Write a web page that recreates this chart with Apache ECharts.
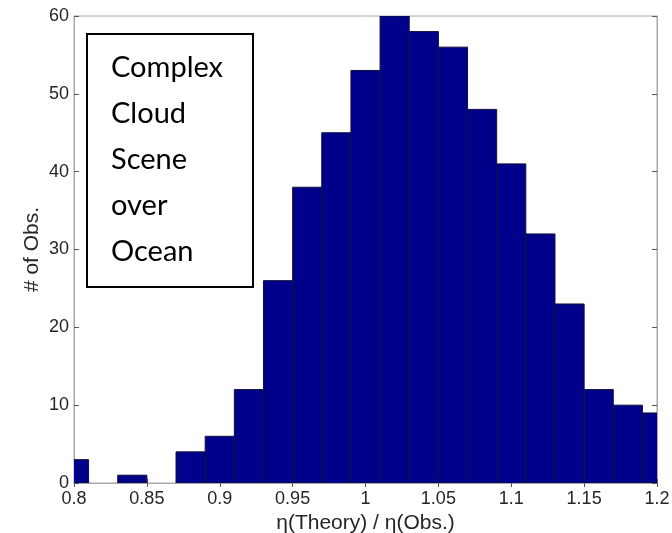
<!DOCTYPE html>
<html>
<head>
<meta charset="utf-8">
<script src="https://cdn.jsdelivr.net/npm/echarts@6/dist/echarts.min.js"></script>
<style>
  html, body { margin: 0; padding: 0; background: #fff; }
  #chart { width: 672px; height: 533px; }
</style>
</head>
<body>
<div id="chart"></div>
<script>
// Histogram bins: centres and widths of η(Theory)/η(Obs.) ratios
const binCenters = [0.80, 0.82, 0.84, 0.86, 0.88, 0.90, 0.92, 0.94, 0.96, 0.98, 1.00,
                    1.02, 1.04, 1.06, 1.08, 1.10, 1.12, 1.14, 1.16, 1.18, 1.20];
const binWidth = 0.02;
const counts = [3, 0, 1, 0, 4, 6, 12, 26, 38, 45, 53,
                60, 58, 56, 48, 41, 32, 23, 12, 10, 9];

const xTicks = [0.8, 0.85, 0.9, 0.95, 1, 1.05, 1.1, 1.15, 1.2];
const yTicks = [0, 10, 20, 30, 40, 50, 60];
const boxLines = ['Complex', 'Cloud', 'Scene', 'over', 'Ocean'];

const chart = echarts.init(document.getElementById('chart'), null, { renderer: 'canvas' });

const axisGray = '#a8a8a8';
const tickFont = { fontFamily: 'Liberation Sans, Arial, sans-serif', fontSize: 18, color: '#262626' };
const nameFont = { fontFamily: 'Liberation Sans, Arial, sans-serif', fontSize: 21, color: '#262626' };

const histData = binCenters.map((c, i) => [c - binWidth / 2, c + binWidth / 2, counts[i]]);

const textEls = boxLines.map((t, i) => ({
  type: 'text',
  left: 111,
  top: 53 + i * 46,
  style: {
    text: t,
    font: '29px Lato, "Noto Sans", sans-serif',
    fill: '#000'
  }
}));

chart.setOption({
  animation: false,
  backgroundColor: '#fff',
  grid: {
    left: 74, right: 15, top: 16, bottom: 50,
    outerBoundsMode: 'none', containLabel: false,
    show: true, borderColor: axisGray, borderWidth: 1
  },
  xAxis: [{
    type: 'value',
    min: xTicks[0], max: xTicks[xTicks.length - 1], interval: 0.05,
    name: 'η(Theory) / η(Obs.)',
    nameLocation: 'middle', nameGap: 28,
    nameTextStyle: nameFont,
    axisLine: { show: true, lineStyle: { color: axisGray } },
    axisTick: { show: true, inside: true, length: 4, lineStyle: { color: '#555' } },
    axisLabel: Object.assign({ margin: 7, formatter: v => String(+v.toFixed(2)) }, tickFont),
    splitLine: { show: false }
  }, {
    type: 'value', position: 'top',
    min: xTicks[0], max: xTicks[xTicks.length - 1], interval: 0.05,
    axisLine: { show: true, lineStyle: { color: axisGray } },
    axisTick: { show: true, inside: true, length: 4, lineStyle: { color: '#555' } },
    axisLabel: { show: false }, splitLine: { show: false }
  }],
  yAxis: [{
    type: 'value',
    min: yTicks[0], max: yTicks[yTicks.length - 1], interval: 10,
    name: '# of Obs.',
    nameLocation: 'middle', nameGap: 31, nameRotate: 90, nameMoveOverlap: false,
    nameTextStyle: nameFont,
    axisLine: { show: true, lineStyle: { color: axisGray } },
    axisTick: { show: true, inside: true, length: 5, lineStyle: { color: '#555' } },
    axisLabel: Object.assign({ margin: 5 }, tickFont),
    splitLine: { show: false }
  }, {
    type: 'value', position: 'right',
    min: yTicks[0], max: yTicks[yTicks.length - 1], interval: 10,
    axisLine: { show: true, lineStyle: { color: axisGray } },
    axisTick: { show: true, inside: true, length: 5, lineStyle: { color: '#555' } },
    axisLabel: { show: false }, splitLine: { show: false }
  }],
  series: [{
    type: 'custom',
    clip: true,
    data: histData,
    encode: { x: [0, 1], y: 2 },
    renderItem: function (params, api) {
      const p0 = api.coord([api.value(0), 0]);
      const p1 = api.coord([api.value(1), api.value(2)]);
      if (api.value(2) <= 0) return null;
      return {
        type: 'rect',
        shape: { x: p0[0], y: p1[1], width: p1[0] - p0[0], height: p0[1] - p1[1] },
        style: { fill: '#00008a', stroke: '#10103a', lineWidth: 1 }
      };
    }
  }],
  graphic: [{
    type: 'rect',
    left: 86, top: 33,
    shape: { width: 166, height: 253 },
    style: { fill: '#fff', stroke: '#000', lineWidth: 2 },
    z: 10
  }].concat(textEls.map(e => Object.assign(e, { z: 11 })))
});
</script>
</body>
</html>
